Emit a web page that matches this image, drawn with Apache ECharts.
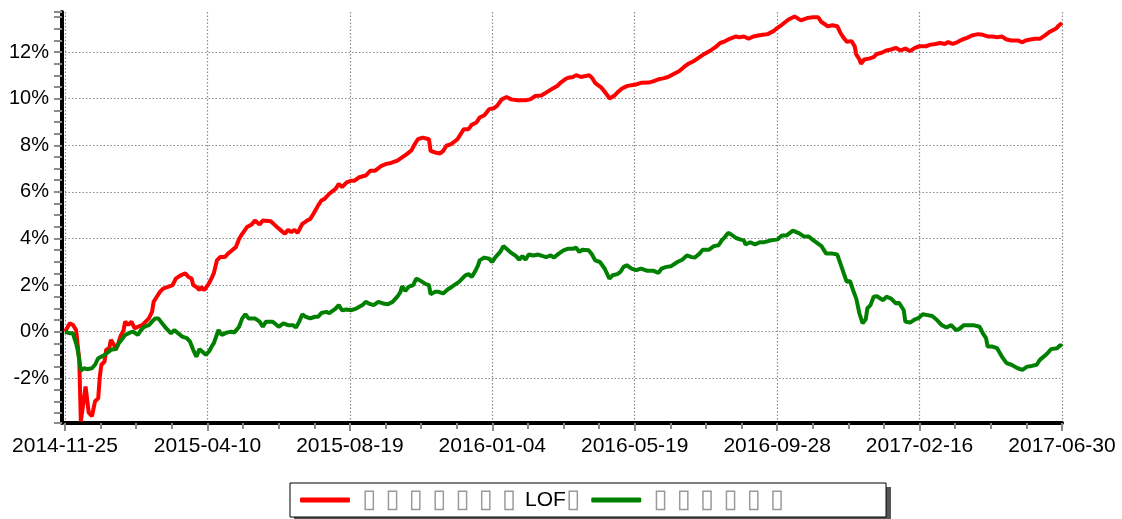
<!DOCTYPE html>
<html>
<head>
<meta charset="utf-8">
<title>chart</title>
<script src="https://cdn.jsdelivr.net/npm/echarts@6/dist/echarts.min.js"></script>
<style>
  html, body { margin: 0; padding: 0; background: #fff; }
  #main { width: 1122px; height: 519px; }
</style>
</head>
<body>
<div id="main"></div>
<script>
  // 横轴刻度标签（每 90 个交易日一个）
  var tickLabels = ["2014-11-25", "2015-04-10", "2015-08-19", "2016-01-04",
                    "2016-05-19", "2016-09-28", "2017-02-16", "2017-06-30"];
  var tickStep = 90;

  // 图例名称（原图中文字显示为方框）
  var redName = "▯▯▯▯▯▯▯LOF▯";
  var greenName = "▯▯▯▯▯▯";

  // [交易日序号, 累计收益 %]
  var redData = [[0,0],[3,0.36],[5,0.29],[7,0.07],[9,-1.2],[10,-3.85],[13,-2.35],[14,-2.92],[15,-3.48],[17,-3.63],[18,-3.63],[19,-2.99],[21,-2.85],[22,-1.92],[23,-1.42],[25,-1.28],[26,-0.78],[28,-0.71],[29,-0.35],[31,-0.57],[32,-0.78],[33,-0.64],[35,-0.21],[37,0.07],[38,0.43],[40,0.29],[42,0.43],[44,0.14],[46,0.21],[49,0.29],[51,0.43],[53,0.57],[55,0.85],[56,1.28],[58,1.5],[60,1.71],[62,1.85],[65,1.92],[68,2.0],[70,2.28],[73,2.42],[76,2.5],[78,2.35],[80,2.28],[81,2.0],[83,1.92],[85,1.78],[86,1.92],[88,1.78],[91,2.07],[93,2.35],[94,2.5],[96,3.06],[98,3.2],[101,3.2],[103,3.35],[105,3.46],[108,3.63],[110,3.98],[112,4.2],[115,4.49],[118,4.6],[120,4.77],[123,4.6],[125,4.77],[130,4.74],[133,4.55],[136,4.37],[139,4.2],[141,4.37],[143,4.27],[145,4.37],[147,4.24],[150,4.63],[153,4.77],[155,4.84],[157,5.06],[160,5.42],[162,5.63],[164,5.7],[167,5.92],[171,6.13],[173,6.34],[175,6.2],[178,6.41],[181,6.48],[183,6.48],[186,6.63],[190,6.7],[193,6.91],[196,6.91],[200,7.12],[203,7.2],[206,7.24],[210,7.34],[213,7.48],[216,7.62],[219,7.79],[221,8.05],[223,8.26],[226,8.33],[230,8.26],[231,7.76],[234,7.69],[237,7.65],[239,7.76],[241,7.98],[244,8.05],[248,8.26],[250,8.48],[252,8.69],[255,8.69],[257,8.88],[260,8.98],[262,9.19],[265,9.29],[268,9.55],[271,9.59],[273,9.69],[276,9.97],[279,10.07],[282,9.97],[286,9.93],[291,9.93],[294,9.97],[297,10.11],[301,10.14],[304,10.26],[308,10.43],[311,10.54],[313,10.68],[316,10.83],[318,10.9],[321,10.93],[323,11.01],[326,10.93],[329,10.97],[331,11.01],[333,10.9],[335,10.68],[337,10.57],[339,10.47],[341,10.3],[343,10.12],[344,10.01],[347,10.12],[349,10.26],[352,10.44],[355,10.54],[358,10.58],[361,10.61],[364,10.68],[369,10.69],[372,10.75],[375,10.83],[378,10.87],[381,10.93],[384,11.04],[388,11.18],[391,11.35],[394,11.5],[398,11.64],[401,11.78],[404,11.92],[408,12.07],[411,12.21],[414,12.39],[417,12.46],[420,12.57],[424,12.67],[426,12.63],[429,12.67],[432,12.57],[435,12.67],[438,12.71],[441,12.74],[444,12.77],[448,12.91],[450,13.03],[453,13.17],[457,13.39],[461,13.53],[465,13.36],[469,13.46],[472,13.49],[476,13.49],[478,13.29],[482,13.11],[485,13.15],[488,13.11],[490,12.82],[492,12.61],[494,12.44],[497,12.47],[499,12.25],[500,11.9],[502,11.68],[503,11.5],[505,11.68],[508,11.72],[511,11.78],[513,11.92],[516,11.97],[519,12.07],[522,12.11],[525,12.18],[528,12.07],[531,12.15],[534,12.04],[537,12.18],[540,12.25],[544,12.25],[547,12.32],[550,12.35],[553,12.39],[556,12.35],[558,12.43],[561,12.35],[564,12.43],[567,12.54],[570,12.61],[573,12.71],[577,12.77],[580,12.74],[583,12.67],[586,12.67],[589,12.64],[592,12.67],[595,12.54],[598,12.5],[602,12.5],[605,12.42],[607,12.5],[610,12.54],[613,12.57],[616,12.57],[619,12.71],[622,12.86],[626,13.0],[628,13.14],[630,13.25]];

  var greenData = [[0,0],[3,-0.07],[5,-0.07],[7,-0.5],[8,-0.78],[9,-1.2],[10,-1.67],[12,-1.57],[14,-1.61],[17,-1.57],[19,-1.42],[21,-1.14],[24,-1.04],[26,-0.95],[29,-0.78],[32,-0.75],[34,-0.5],[36,-0.33],[38,-0.14],[41,-0.04],[43,0],[46,-0.14],[48,0.07],[50,0.21],[53,0.28],[55,0.43],[57,0.57],[59,0.57],[61,0.39],[64,0.14],[67,-0.07],[69,0.07],[71,-0.04],[74,-0.21],[77,-0.28],[79,-0.43],[81,-0.78],[83,-1.07],[85,-0.75],[86,-0.78],[89,-0.99],[91,-0.85],[93,-0.6],[94,-0.5],[97,0.07],[99,-0.14],[102,-0.04],[105,0],[107,-0.04],[110,0.21],[112,0.57],[114,0.75],[116,0.57],[120,0.57],[123,0.43],[125,0.21],[127,0.43],[131,0.43],[133,0.33],[135,0.21],[138,0.36],[141,0.28],[144,0.28],[146,0.18],[148,0.43],[150,0.75],[152,0.64],[155,0.57],[158,0.64],[160,0.64],[162,0.8],[165,0.85],[167,0.8],[171,0.99],[173,1.14],[175,0.92],[178,0.95],[181,0.92],[184,0.99],[188,1.14],[190,1.28],[193,1.18],[195,1.14],[198,1.28],[201,1.21],[204,1.18],[207,1.28],[210,1.5],[212,1.71],[213,1.95],[215,1.75],[217,1.92],[220,2.0],[222,2.28],[224,2.21],[228,2.04],[230,2.0],[231,1.61],[234,1.71],[236,1.71],[239,1.64],[242,1.82],[245,1.95],[249,2.14],[251,2.28],[253,2.42],[255,2.47],[257,2.35],[259,2.57],[261,2.85],[262,3.06],[265,3.18],[268,3.13],[270,2.99],[272,3.2],[275,3.42],[277,3.67],[279,3.56],[282,3.38],[285,3.24],[287,3.09],[289,3.24],[291,3.09],[293,3.31],[296,3.27],[299,3.31],[302,3.24],[304,3.2],[307,3.27],[309,3.18],[312,3.35],[315,3.49],[318,3.56],[321,3.56],[323,3.6],[325,3.42],[327,3.52],[331,3.49],[333,3.31],[335,3.06],[338,2.99],[341,2.71],[343,2.42],[344,2.28],[346,2.42],[349,2.47],[351,2.57],[353,2.78],[355,2.85],[358,2.71],[361,2.64],[364,2.71],[368,2.61],[372,2.61],[375,2.52],[377,2.71],[380,2.78],[383,2.81],[387,2.99],[390,3.09],[393,3.27],[396,3.2],[398,3.18],[401,3.35],[403,3.52],[407,3.52],[410,3.67],[413,3.71],[415,3.92],[417,4.06],[419,4.24],[421,4.17],[424,4.02],[427,3.95],[429,3.92],[430,3.74],[433,3.84],[436,3.74],[439,3.84],[442,3.84],[446,3.92],[450,3.95],[453,4.13],[456,4.13],[460,4.34],[464,4.22],[467,4.08],[470,4.08],[473,3.92],[478,3.67],[481,3.35],[485,3.35],[488,3.31],[490,2.92],[492,2.52],[494,2.14],[496,2.18],[498,1.78],[500,1.42],[502,0.78],[504,0.36],[506,0.53],[507,1.0],[509,1.14],[511,1.5],[513,1.52],[517,1.35],[519,1.5],[522,1.42],[525,1.21],[527,1.24],[530,0.92],[531,0.43],[534,0.39],[537,0.53],[539,0.57],[542,0.75],[545,0.71],[548,0.67],[551,0.5],[554,0.28],[557,0.18],[560,0.28],[563,0.07],[565,0.11],[568,0.28],[571,0.28],[574,0.28],[578,0.21],[580,-0.07],[582,-0.28],[583,-0.64],[586,-0.64],[589,-0.71],[592,-1.07],[595,-1.35],[598,-1.42],[602,-1.57],[605,-1.64],[608,-1.5],[611,-1.47],[614,-1.42],[616,-1.21],[619,-1.04],[621,-0.92],[623,-0.75],[624,-0.81],[627,-0.71],[629,-0.57],[630,-0.64]];

  var font = "'Liberation Sans', Arial, sans-serif";
  var gridLine = { type: [1.5, 2], color: "#8a8a8a", width: 1.2 };
  var tickLine = { color: "#8a8a8a", width: 2 };

  var myChart = echarts.init(document.getElementById("main"), null, { renderer: "canvas" });
  var option = {
    animation: false,
    backgroundColor: "#fff",
    grid: { left: 65, right: 60, top: 12, bottom: 96, containLabel: false, outerBoundsMode: "none" },
    // 图例框的阴影
    graphic: [
      {
        type: "rect",
        z: 1,
        silent: true,
        shape: { x: 294, y: 487, width: 597, height: 35 },
        style: { fill: "#555" }
      }
    ],
    legend: {
      left: 290,
      top: 483,
      z: 5,
      orient: "horizontal",
      padding: [4, 93, 4, 10],
      itemGap: 2,
      itemWidth: 50,
      itemHeight: 5,
      icon: "roundRect",
      backgroundColor: "#fff",
      borderColor: "#000",
      borderWidth: 1,
      borderRadius: 0,
      data: [redName, greenName],
      formatter: function (name) {
        var s = "{s| }";
        for (var i = 0; i < name.length; i++) {
          var c = name.charAt(i);
          if (c === "▯") {
            s += "{b|▯}";
          } else {
            s += "{t|" + c + "}";
          }
        }
        return s;
      },
      textStyle: {
        fontFamily: font,
        fontSize: 20,
        lineHeight: 22,
        color: "#000",
        rich: {
          s: { width: 7, height: 22, lineHeight: 22 },
          b: { width: 23.3, height: 22, fontSize: 26, lineHeight: 22, color: "#9a9a9a", fontFamily: "'DejaVu Sans'" },
          t: { height: 22, fontSize: 21, lineHeight: 22, color: "#000", fontFamily: font }
        }
      }
    },
    xAxis: {
      type: "value",
      min: 0,
      max: tickStep * (tickLabels.length - 1),
      interval: tickStep,
      axisLine: { show: true, onZero: false, lineStyle: { color: "#000", width: 4 } },
      axisTick: { show: true, length: 8, lineStyle: tickLine },
      minorTick: { show: true, splitNumber: 4, length: 6, lineStyle: tickLine },
      axisLabel: {
        margin: 13,
        fontFamily: font,
        fontSize: 21,
        color: "#000",
        formatter: function (v) {
          return tickLabels[Math.round(v / tickStep)] || "";
        }
      },
      splitLine: { show: true, lineStyle: gridLine }
    },
    yAxis: {
      type: "value",
      min: -3.92,
      max: 13.72,
      splitNumber: 9,
      offset: 3,
      axisLine: { show: true, onZero: false, lineStyle: { color: "#000", width: 4 } },
      axisTick: { show: true, length: 8, lineStyle: tickLine },
      minorTick: { show: true, splitNumber: 4, length: 8, lineStyle: tickLine },
      axisLabel: {
        margin: 13,
        fontFamily: font,
        fontSize: 20,
        color: "#000",
        showMinLabel: false,
        showMaxLabel: false,
        formatter: function (v) { return v + "%"; }
      },
      splitLine: { show: true, showMinLine: false, showMaxLine: false, lineStyle: gridLine }
    },
    series: [
      {
        name: redName,
        type: "line",
        data: redData,
        showSymbol: false,
        symbol: "none",
        itemStyle: { color: "#ff0000" },
        lineStyle: { color: "#ff0000", width: 4 }
      },
      {
        name: greenName,
        type: "line",
        data: greenData,
        showSymbol: false,
        symbol: "none",
        itemStyle: { color: "#008000" },
        lineStyle: { color: "#008000", width: 4 }
      }
    ]
  };
  myChart.setOption(option);
</script>
</body>
</html>
